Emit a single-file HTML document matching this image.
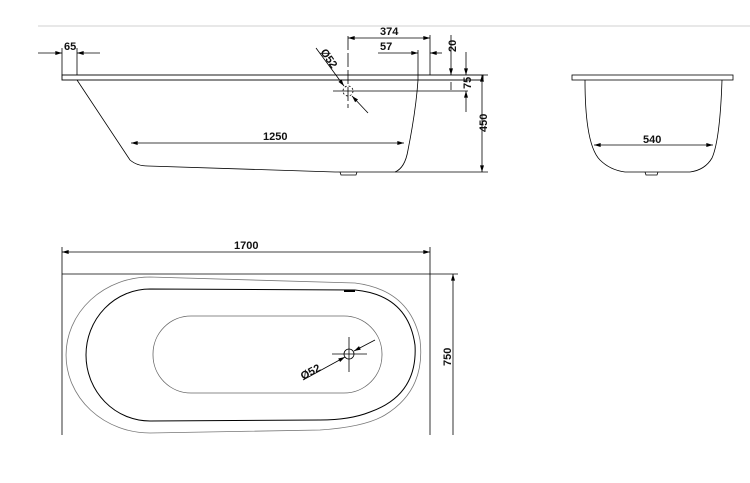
<!DOCTYPE html>
<html><head><style>
html,body{margin:0;padding:0;background:#fff;}
svg{display:block;}
text{font-family:"Liberation Sans",Arial,sans-serif;font-size:11px;font-weight:bold;fill:#111;}
</style></head><body>
<svg width="750" height="483" viewBox="0 0 750 483" xmlns="http://www.w3.org/2000/svg">
<defs>
<marker id="a" viewBox="0 0 10 6" refX="10" refY="3" markerWidth="10" markerHeight="4" orient="auto-start-reverse" markerUnits="userSpaceOnUse"><path d="M0,0 L10,3 L0,6z" fill="#000"/></marker>
</defs>
<line x1="38" y1="26" x2="750" y2="26" stroke="#e8e8e8" stroke-width="2"/>
<g fill="none" stroke="#000" stroke-width="0.8">
<!-- side view -->
<rect x="62" y="75" width="421" height="5" stroke-width="0.9"/>
<path d="M77,80 L130,160 Q137,166 148,166 L335,172 L395,172 Q405,168 408,150 Q416,110 418,80"/>
<path d="M340,172 L341,175 L356,175 L357,172"/>
<line x1="62" y1="48" x2="62" y2="75"/><line x1="77" y1="48" x2="77" y2="75"/>
<line x1="38" y1="53" x2="62" y2="53" marker-end="url(#a)"/><line x1="100" y1="53" x2="77" y2="53" marker-end="url(#a)"/>
<line x1="348" y1="36" x2="348" y2="108" stroke-dasharray="14,3"/>
<line x1="430" y1="35" x2="430" y2="75"/>
<line x1="348" y1="38" x2="430" y2="38" marker-start="url(#a)" marker-end="url(#a)"/>
<line x1="418" y1="50" x2="418" y2="80"/>
<line x1="378" y1="53" x2="418" y2="53" marker-end="url(#a)"/>
<line x1="442" y1="53" x2="430" y2="53" marker-end="url(#a)"/>
<line x1="451" y1="35" x2="451" y2="75" marker-end="url(#a)"/>
<line x1="451" y1="90" x2="451" y2="82"/>
<line x1="466" y1="52" x2="466" y2="75" marker-end="url(#a)"/>
<line x1="466" y1="112" x2="466" y2="91" marker-end="url(#a)"/>
<line x1="333" y1="91" x2="468" y2="91"/>
<circle cx="348" cy="91" r="5" stroke-dasharray="2,2"/>
<line x1="483" y1="75" x2="488" y2="75"/>
<line x1="395" y1="172" x2="488" y2="172"/>
<line x1="482" y1="75" x2="482" y2="172" marker-start="url(#a)" marker-end="url(#a)"/>
<line x1="316" y1="48" x2="344" y2="86" marker-end="url(#a)"/>
<line x1="368" y1="113" x2="352" y2="96" marker-end="url(#a)"/>
<line x1="131" y1="143" x2="404" y2="143" marker-start="url(#a)" marker-end="url(#a)"/>
<!-- end view -->
<rect x="572" y="75" width="161" height="5"/>
<path d="M585,80 Q585,145 600,160 Q610,170 625,172 L690,172 Q705,170 712,158 Q720,140 722,80"/>
<path d="M645,172 L646,175 L657,175 L658,172"/>
<line x1="594" y1="145" x2="713" y2="145" marker-start="url(#a)" marker-end="url(#a)"/>
<!-- top view -->
<line x1="62" y1="247" x2="62" y2="435"/><line x1="430" y1="247" x2="430" y2="435"/>
<line x1="62" y1="274" x2="458" y2="274"/>
<line x1="62" y1="252" x2="430" y2="252" marker-start="url(#a)" marker-end="url(#a)"/>
<line x1="453" y1="274" x2="453" y2="435" marker-start="url(#a)"/>
<path stroke="#777" d="M150,277 L355,283 Q410,290 420,340 Q426,390 385,415 Q365,427 320,430 L150,433 A84,78 0 0 1 150,277 Z"/>
<path stroke-width="1" d="M150,289 L355,290 Q408,295 415,345 Q418,395 370,412 Q350,420 320,420 L150,421 A64,66 0 0 1 150,289 Z"/>
<line x1="344" y1="291" x2="355" y2="291" stroke-width="2"/>
<rect x="153" y="316" width="229" height="77" rx="38" stroke="#666"/>
<circle cx="349" cy="354" r="5"/>
<line x1="349" y1="337" x2="349" y2="372"/><line x1="332" y1="354" x2="367" y2="354"/>
<line x1="303" y1="380" x2="345" y2="357" marker-end="url(#a)"/>
<line x1="375" y1="340" x2="354" y2="351" marker-end="url(#a)"/>
</g>
<text x="64" y="50">65</text>
<text x="380" y="35">374</text>
<text x="380" y="50">57</text>
<text x="263" y="140">1250</text>
<text transform="translate(456,52) rotate(-90)">20</text>
<text transform="translate(471,89) rotate(-90)">75</text>
<text transform="translate(487,132) rotate(-90)">450</text>
<text transform="translate(320,52) rotate(55)">Ø52</text>
<text x="643" y="143">540</text>
<text x="234" y="249">1700</text>
<text transform="translate(451,366) rotate(-90)">750</text>
<text transform="translate(303,380) rotate(-28)">Ø52</text>
</svg>
</body></html>
